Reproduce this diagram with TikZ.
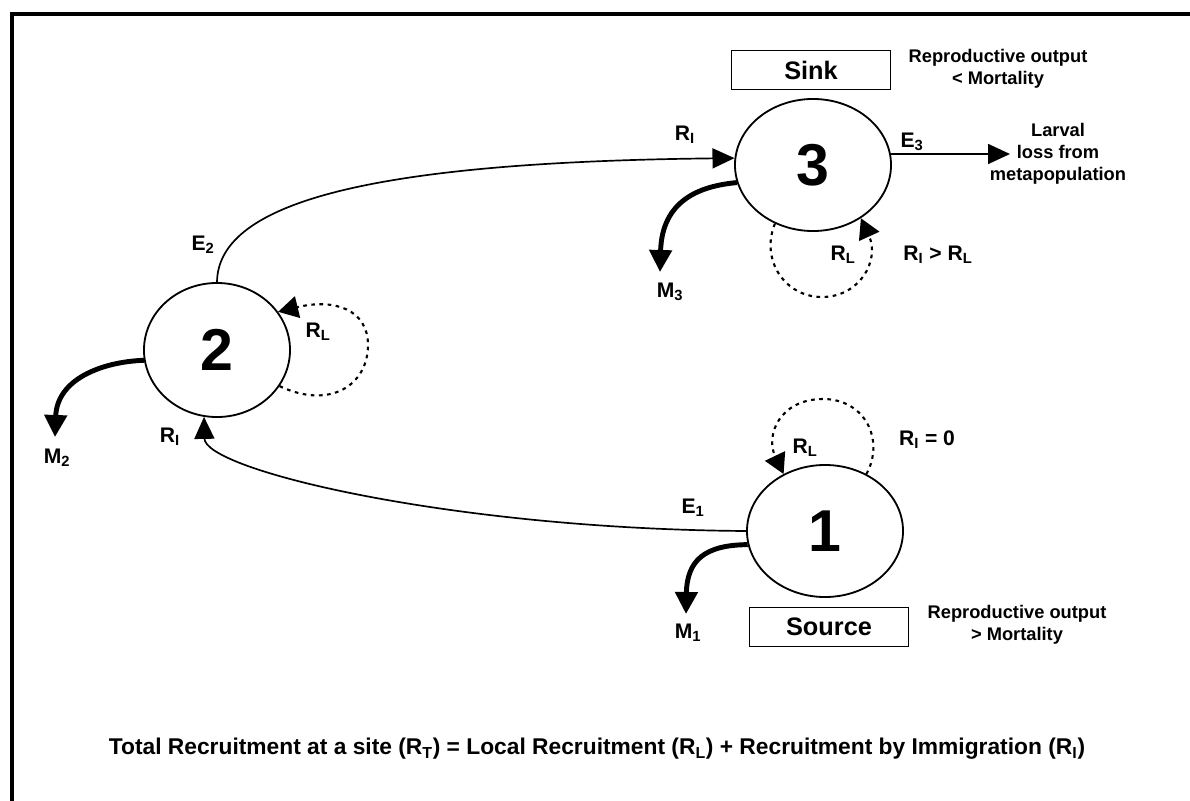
\documentclass[tikz,border=0pt]{standalone}
\usepackage{fontspec}
\setmainfont{Liberation Sans}
\usetikzlibrary{shapes.geometric}
\usetikzlibrary{arrows.meta}
\newcommand{\lsub}[1]{\textsubscript{#1}}

\begin{document}
\begin{tikzpicture}[x=0.025cm,y=-0.025cm,
  site/.style={ellipse,draw,line width=1.3pt,minimum width=3.9cm,minimum height=3.3cm,inner sep=0pt,font=\fontsize{42}{44}\selectfont\bfseries},
  lbl/.style={font=\fontsize{13}{15.8}\selectfont\bfseries,inner sep=0pt,align=center},
  sym/.style={font=\fontsize{15}{17}\selectfont\bfseries,inner sep=0pt},
  tag/.style={draw,line width=0.8pt,minimum width=3.975cm,minimum height=0.96cm,inner sep=0pt,font=\fontsize{18}{20}\selectfont\bfseries},
  flow/.style={line width=1.2pt,-{Triangle[length=0.55cm,width=0.5cm]}},
  loss/.style={line width=3.5pt,-{Triangle[length=0.55cm,width=0.55cm]}},
  self/.style={line width=1.5pt,dash pattern=on 2.6pt off 3.2pt,-{Triangle[length=0.5cm,width=0.55cm]}}]
\useasboundingbox (0,0) rectangle (1190,801);
\draw[line width=2.5pt] (12,801) -- (12,14) -- (1190,14);

\node[site,minimum width=3.65cm,minimum height=3.35cm] (n2) at (217,350) {2};
\node[site] (n3) at (813,165) {3};
\node[site] (n1) at (825,531) {1};

\node[tag] (sink) at (811,70) {Sink};
\node[tag] (source) at (829,627) {Source};
\node[lbl] (repro3) at (998,69) {Reproductive output\\< Mortality};
\node[lbl] (repro1) at (1017,625) {Reproductive output\\> Mortality};
\node[lbl] (larval) at (1058,154) {Larval\\loss from\\metapopulation};

\coordinate (out3) at (1010,154);
\coordinate (m3) at (660,272);
\coordinate (m2) at (55,437);
\coordinate (m1) at (686,614);

\draw[flow] (n2.north) .. controls (218,200) and (380,162) .. (n3.175);
\draw[flow] (n1.west) .. controls (450,529) and (205,470) .. (n2.-101);
\draw[flow] (n3.8) -- (out3);

\draw[loss] (n3.-167) .. controls (700,186) and (662,200) .. (m3);
\draw[loss] (n2.-172) .. controls (100,362) and (57,380) .. (m2);
\draw[loss] (n1.-170) .. controls (705,545) and (687,560) .. (m1);

\draw[self] (n2.-30) .. controls (330,410) and (368,385) .. (368,345) .. controls (368,310) and (335,298) .. (n2.32);
\draw[self] (n3.-123) .. controls (760,260) and (785,297) .. (822,297) .. controls (860,297) and (880,260) .. (n3.-48);
\draw[self] (n1.54) .. controls (885,440) and (865,399) .. (823,399) .. controls (780,399) and (765,435) .. (n1.126);

\node[sym] (e3) at (912,142) {E\lsub{3}};
\node[sym] (ri3) at (685,135) {R\lsub{I}};
\node[sym] (e2) at (203,245) {E\lsub{2}};
\node[sym] (rl2) at (318,332) {R\lsub{L}};
\node[sym] (ri2) at (170,437) {R\lsub{I}};
\node[sym] (mm2) at (57,458) {M\lsub{2}};
\node[sym] (mm3) at (670,292) {M\lsub{3}};
\node[sym] (rl3) at (843,255) {R\lsub{L}};
\node[sym] (cmp3) at (938,255) {R\lsub{I} > R\lsub{L}};
\node[sym] (rl1) at (805,448) {R\lsub{L}};
\node[sym] (cmp1) at (927,440) {R\lsub{I} = 0};
\node[sym] (e1) at (693,508) {E\lsub{1}};
\node[sym] (mm1) at (688,633) {M\lsub{1}};

\node[sym,font=\fontsize{16.2}{18}\selectfont\bfseries] (total) at (597,749) {Total Recruitment at a site (R\lsub{T}) = Local Recruitment (R\lsub{L}) + Recruitment by Immigration (R\lsub{I})};
\end{tikzpicture}
\end{document}
